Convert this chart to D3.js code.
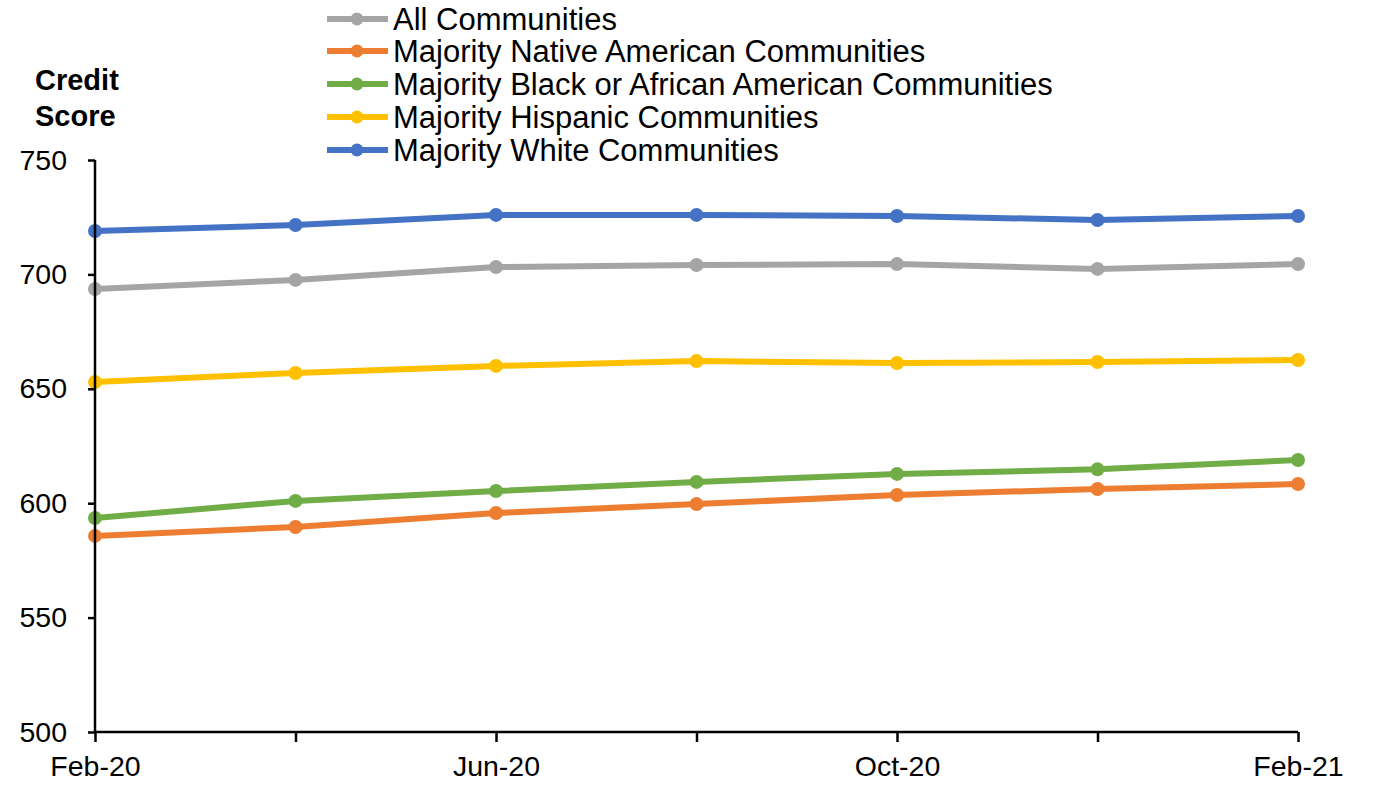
<!DOCTYPE html>
<html><head><meta charset="utf-8">
<script src="https://cdn.jsdelivr.net/npm/d3@7"></script>
<style>html,body{margin:0;padding:0;background:#fff}svg{display:block;font-family:"Liberation Sans",Arial,sans-serif}</style>
</head><body>
<svg id="c" width="1373" height="785"></svg>
<script>
const months = ["Feb-20","Apr-20","Jun-20","Aug-20","Oct-20","Dec-20","Feb-21"];
const shownLabels = ["Feb-20","Jun-20","Oct-20","Feb-21"];
const yTicks = [500,550,600,650,700,750];
const seriesNames = ["All Communities","Majority Native American Communities","Majority Black or African American Communities","Majority Hispanic Communities","Majority White Communities"];
const seriesColors = ["#a5a5a5","#ed7d31","#70ad47","#ffc000","#4472c4"];
const allComm = [693.6,697.6,703.2,704.1,704.5,702.4,704.5];
const nativeAm = [585.7,589.6,595.7,599.6,603.6,606.2,608.4];
const blackAm = [593.5,601.0,605.3,609.3,612.8,614.8,618.9];
const hispanic = [653.0,656.9,660.0,662.1,661.3,661.7,662.6];
const white = [719.0,721.6,726.0,726.0,725.5,723.8,725.5];
const seriesValues = [allComm,nativeAm,blackAm,hispanic,white];

const svg = d3.select("#c");
const x = d3.scalePoint().domain(months).range([95,1298]);
const y = d3.scaleLinear().domain([500,750]).range([732,160]);

const line = d3.line().x((d,i)=>x(months[i])).y(d=>y(d));
seriesValues.forEach((vals,k)=>{
  const g = svg.append("g");
  g.append("path").datum(vals).attr("d",line)
    .attr("fill","none").attr("stroke",seriesColors[k]).attr("stroke-width",6).attr("stroke-linejoin","round");
  g.selectAll("circle").data(vals).join("circle")
    .attr("cx",(d,i)=>x(months[i])).attr("cy",d=>y(d)).attr("r",7).attr("fill",seriesColors[k]);
});

const yAxis = svg.append("g").attr("transform","translate(95,0)")
  .call(d3.axisLeft(y).tickValues(yTicks).tickSize(7).tickPadding(21).tickFormat(d3.format("d")));
const xAxis = svg.append("g").attr("transform","translate(0,732)")
  .call(d3.axisBottom(x).tickSize(10).tickPadding(14).tickFormat(d=>shownLabels.includes(d)?d:""));
[yAxis,xAxis].forEach(a=>{
  a.select(".domain").attr("stroke","#000").attr("stroke-width",2.5);
  a.selectAll(".tick line").attr("stroke","#000").attr("stroke-width",2.5);
  a.selectAll("text").attr("fill","#000").style("font-size","28.5px").style("font-family","'Liberation Sans',Arial,sans-serif");
});
xAxis.select(".domain").attr("d","M95,0H1298");
yAxis.select(".domain").attr("d","M0,160V732");

svg.append("text").attr("x",35).attr("y",90).text("Credit").attr("font-weight","bold").attr("font-size",29);
svg.append("text").attr("x",35).attr("y",126).text("Score").attr("font-weight","bold").attr("font-size",29);

const legY = [19,51,84,117,150];
const leg = svg.append("g");
seriesNames.forEach((n,i)=>{
  const g = leg.append("g").attr("transform",`translate(0,${legY[i]})`);
  g.append("line").attr("x1",327).attr("x2",388).attr("y1",0).attr("y2",0).attr("stroke",seriesColors[i]).attr("stroke-width",6);
  g.append("circle").attr("cx",357).attr("cy",0).attr("r",6.5).attr("fill",seriesColors[i]);
  g.append("text").attr("x",393).attr("y",0).attr("dy","0.36em").attr("font-size",31).text(n);
});
</script>
</body></html>
